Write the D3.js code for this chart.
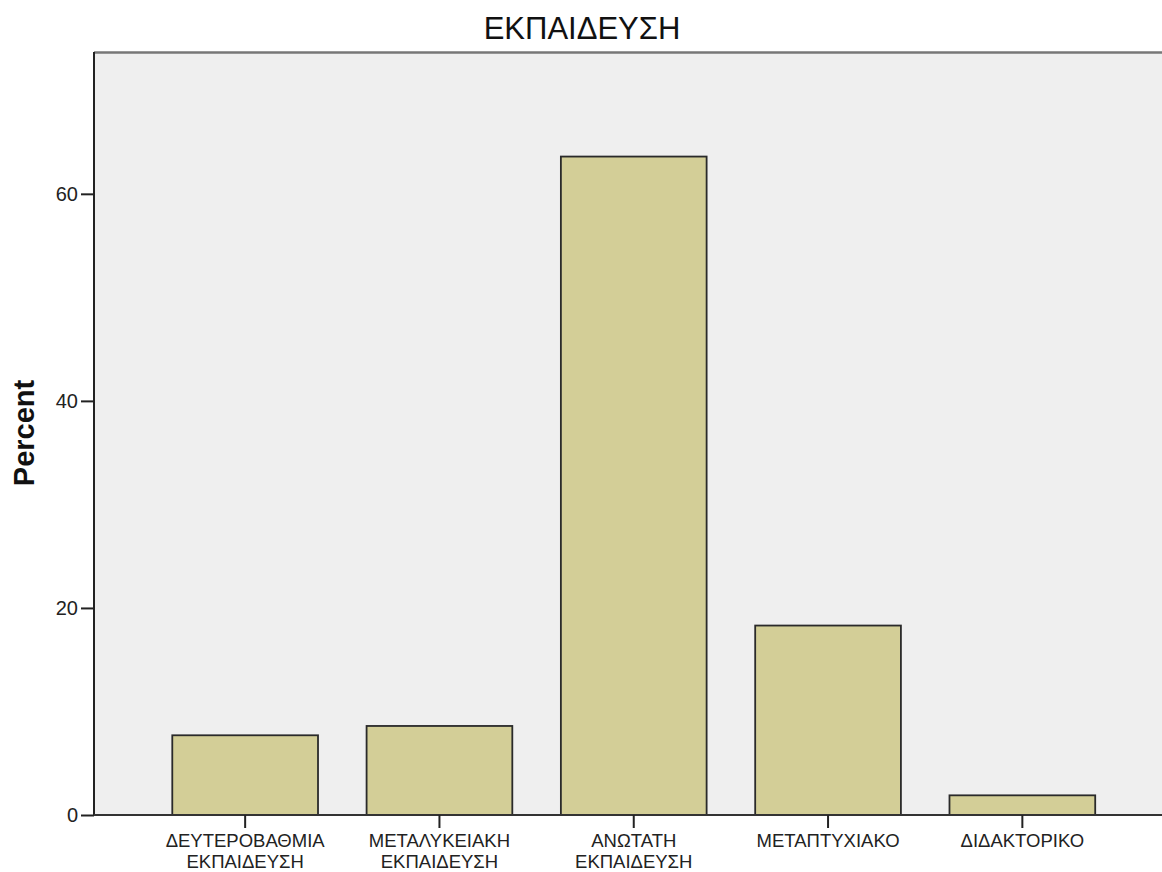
<!DOCTYPE html>
<html>
<head>
<meta charset="utf-8">
<script src="https://cdn.jsdelivr.net/npm/d3@7"></script>
<style>
  body { margin: 0; background: #fff; }
  svg { display: block; }
</style>
</head>
<body>
<svg id="chart" width="1162" height="872"></svg>
<script>
// data
const categories = [
  ["ΔΕΥΤΕΡΟΒΑΘΜΙΑ", "ΕΚΠΑΙΔΕΥΣΗ"],
  ["ΜΕΤΑΛΥΚΕΙΑΚΗ", "ΕΚΠΑΙΔΕΥΣΗ"],
  ["ΑΝΩΤΑΤΗ", "ΕΚΠΑΙΔΕΥΣΗ"],
  ["ΜΕΤΑΠΤΥΧΙΑΚΟ"],
  ["ΔΙΔΑΚΤΟΡΙΚΟ"]
];
const percents = [7.7, 8.6, 63.6, 18.3, 1.9];
const yTicks = [0, 20, 40, 60];

const svg = d3.select("#chart");
const plotLeft = 94, plotTop = 52, plotRight = 1162, plotBottom = 815;
const font = "Arial, 'Liberation Sans', sans-serif";

// plot background
svg.append("rect")
  .attr("x", plotLeft)
  .attr("y", plotTop)
  .attr("width", plotRight - plotLeft)
  .attr("height", plotBottom - plotTop)
  .attr("fill", "#efefef");

svg.append("line")
  .attr("x1", plotLeft).attr("x2", plotRight)
  .attr("y1", plotTop + 0.5).attr("y2", plotTop + 0.5)
  .attr("stroke", "#777")
  .attr("stroke-width", 2.5);

// scales
const keys = categories.map((c) => c.join(" "));
const x = d3.scaleBand().domain(keys).range([148, 1119.5]).paddingInner(0.25).paddingOuter(0.125);
const y = d3.scaleLinear().domain([0, 73.7]).range([plotBottom, plotTop]);

// bars
svg.selectAll(".bar")
  .data(percents)
  .enter()
  .append("rect")
  .attr("class", "bar")
  .attr("x", (d, i) => x(keys[i]))
  .attr("y", (d) => y(d))
  .attr("width", x.bandwidth())
  .attr("height", (d) => plotBottom - y(d))
  .attr("fill", "#d3ce97")
  .attr("stroke", "#2a2a2a")
  .attr("stroke-width", 1.8);

// y axis
const yAxis = svg.append("g")
  .attr("transform", `translate(${plotLeft},0)`)
  .call(d3.axisLeft(y).tickValues(yTicks).tickSize(13).tickPadding(3).tickFormat(d3.format("d")));
yAxis.select(".domain").attr("stroke", "#222").attr("stroke-width", 2).attr("d", `M0,${plotTop}V${plotBottom}`);
yAxis.selectAll(".tick line").attr("stroke", "#222").attr("stroke-width", 2);
yAxis.selectAll(".tick text")
  .attr("font-family", font)
  .attr("font-size", 20)
  .attr("fill", "#222");

// x axis
const xAxis = svg.append("g")
  .attr("transform", `translate(0,${plotBottom})`)
  .call(d3.axisBottom(x).tickSize(13).tickFormat(""));
xAxis.select(".domain").attr("stroke", "#333").attr("stroke-width", 2).attr("d", `M${plotLeft},0H${plotRight}`);
xAxis.selectAll(".tick line").attr("stroke", "#222").attr("stroke-width", 2);

// x labels, one or two lines
categories.forEach((lines, i) => {
  const t = svg.append("text")
    .attr("x", x(keys[i]) + x.bandwidth() / 2)
    .attr("y", 847)
    .attr("text-anchor", "middle")
    .attr("font-family", font)
    .attr("font-size", 18.5)
    .attr("fill", "#222");
  lines.forEach((s, j) => {
    t.append("tspan")
      .attr("x", x(keys[i]) + x.bandwidth() / 2)
      .attr("dy", j === 0 ? 0 : 21)
      .text(s);
  });
});

// title
svg.append("text")
  .attr("x", 582)
  .attr("y", 39)
  .attr("text-anchor", "middle")
  .attr("font-family", font)
  .attr("font-size", 31)
  .attr("fill", "#111")
  .text("ΕΚΠΑΙΔΕΥΣΗ");

// y label
svg.append("text")
  .attr("transform", "rotate(-90)")
  .attr("x", -433)
  .attr("y", 34)
  .attr("text-anchor", "middle")
  .attr("font-family", font)
  .attr("font-size", 29)
  .attr("font-weight", "bold")
  .attr("fill", "#111")
  .text("Percent");
</script>
</body>
</html>
